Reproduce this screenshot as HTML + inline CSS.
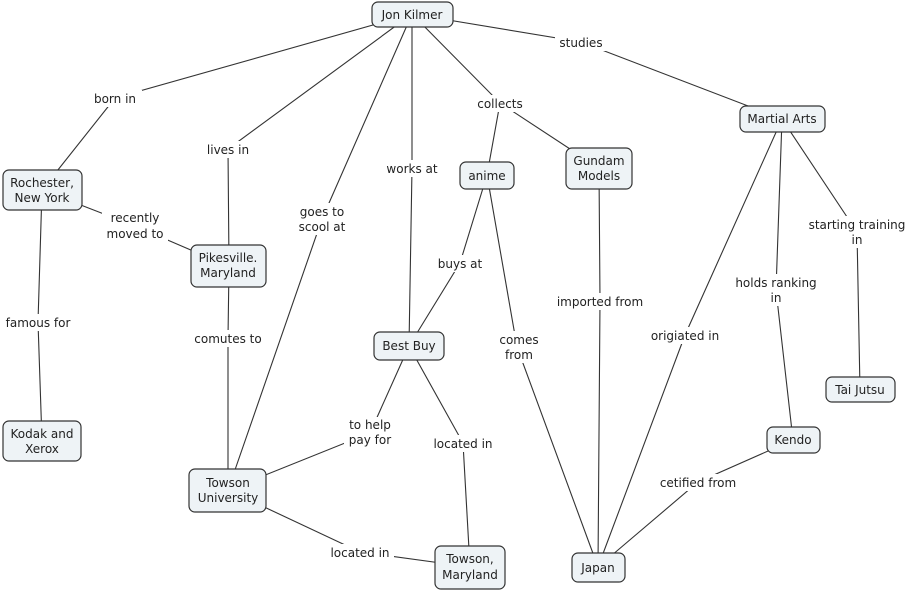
<!DOCTYPE html>
<html><head><meta charset="utf-8"><style>
html,body{margin:0;padding:0;background:#fff;}
svg{display:block;}
text{font-family:"DejaVu Sans","Liberation Sans",sans-serif;font-size:12px;fill:#222;}
.n{fill:#eef3f6;stroke:#333;stroke-width:1.2;}
.l{stroke:#333;stroke-width:1.1;fill:none;}
.lb{fill:#fff;}
</style></head><body>
<svg width="910" height="592" viewBox="0 0 910 592">
<g class="l">
<!-- Jon Kilmer -> born in -> Rochester -->
<polyline points="412,14 115,98 42,190"/>
<polyline points="412,14 228,149 229,266"/>
<polyline points="412,14 322,219 228,490"/>
<polyline points="412,14 412,168 409,346"/>
<polyline points="412,14 500,103 487,175"/>
<polyline points="500,103 599,168"/>
<polyline points="412,14 581,42 782,119"/>
<polyline points="42,190 135,226 228,266"/>
<polyline points="42,190 38,322 42,441"/>
<polyline points="229,266 228,338 228,490"/>
<polyline points="487,175 460,263 409,346"/>
<polyline points="487,175 517,347 598,567"/>
<polyline points="599,168 600,301 598,567"/>
<polyline points="782,119 685,335 598,567"/>
<polyline points="782,119 776,290 793,440"/>
<polyline points="782,119 857,232 860,390"/>
<polyline points="409,346 370,433 228,490"/>
<polyline points="409,346 463,443 470,567"/>
<polyline points="228,490 360,552 470,567"/>
<polyline points="793,440 698,482 598,567"/>
</g>
<g class="lb">
<rect x="90" y="90" width="52" height="17"/>
<rect x="202" y="141" width="52" height="17"/>
<rect x="294" y="203" width="58" height="32"/>
<rect x="382" y="160" width="60" height="17"/>
<rect x="474" y="95" width="52" height="17"/>
<rect x="555" y="34" width="52" height="17"/>
<rect x="102" y="209" width="66" height="33"/>
<rect x="2" y="314" width="74" height="17"/>
<rect x="192" y="330" width="72" height="17"/>
<rect x="434" y="255" width="52" height="17"/>
<rect x="496" y="331" width="44" height="32"/>
<rect x="554" y="293" width="92" height="17"/>
<rect x="648" y="327" width="74" height="17"/>
<rect x="734" y="274" width="84" height="32"/>
<rect x="806" y="216" width="104" height="32"/>
<rect x="344" y="417" width="52" height="32"/>
<rect x="430" y="435" width="66" height="17"/>
<rect x="328" y="544" width="66" height="17"/>
<rect x="657" y="474" width="82" height="17"/>
</g>
<g text-anchor="middle">
<text x="115" y="103">born in</text>
<text x="228" y="154">lives in</text>
<text x="322" y="216">goes to</text><text x="322" y="231">scool at</text>
<text x="412" y="173">works at</text>
<text x="500" y="108">collects</text>
<text x="581" y="47">studies</text>
<text x="135" y="222">recently</text><text x="135" y="238">moved to</text>
<text x="38" y="327">famous for</text>
<text x="228" y="343">comutes to</text>
<text x="460" y="268">buys at</text>
<text x="519" y="344">comes</text><text x="519" y="359">from</text>
<text x="600" y="306">imported from</text>
<text x="685" y="340">origiated in</text>
<text x="776" y="287">holds ranking</text><text x="776" y="302">in</text>
<text x="857" y="229">starting training</text><text x="857" y="244">in</text>
<text x="370" y="429">to help</text><text x="370" y="444">pay for</text>
<text x="463" y="448">located in</text>
<text x="360" y="557">located in</text>
<text x="698" y="487">cetified from</text>
</g>
<g>
<rect class="n" x="372" y="2" width="81" height="25" rx="6"/>
<rect class="n" x="3" y="170" width="79" height="40" rx="6"/>
<rect class="n" x="191" y="245" width="75" height="42" rx="6"/>
<rect class="n" x="3" y="421" width="78" height="40" rx="6"/>
<rect class="n" x="189" y="469" width="77" height="43" rx="6"/>
<rect class="n" x="374" y="332" width="70" height="28" rx="6"/>
<rect class="n" x="460" y="162" width="54" height="27" rx="6"/>
<rect class="n" x="566" y="148" width="66" height="41" rx="6"/>
<rect class="n" x="740" y="106" width="85" height="26" rx="6"/>
<rect class="n" x="826" y="377" width="69" height="25" rx="6"/>
<rect class="n" x="767" y="427" width="53" height="26" rx="6"/>
<rect class="n" x="572" y="553" width="53" height="29" rx="6"/>
<rect class="n" x="435" y="546" width="70" height="43" rx="6"/>
</g>
<g text-anchor="middle">
<text x="412" y="19">Jon Kilmer</text>
<text x="42" y="187">Rochester,</text><text x="42" y="202">New York</text>
<text x="228" y="262">Pikesville.</text><text x="228" y="277">Maryland</text>
<text x="42" y="438">Kodak and</text><text x="42" y="453">Xerox</text>
<text x="228" y="487">Towson</text><text x="228" y="502">University</text>
<text x="409" y="350">Best Buy</text>
<text x="487" y="180">anime</text>
<text x="599" y="165">Gundam</text><text x="599" y="180">Models</text>
<text x="782" y="123">Martial Arts</text>
<text x="860" y="394">Tai Jutsu</text>
<text x="793" y="444">Kendo</text>
<text x="598" y="572">Japan</text>
<text x="470" y="563">Towson,</text><text x="470" y="579">Maryland</text>
</g>
</svg>
</body></html>
